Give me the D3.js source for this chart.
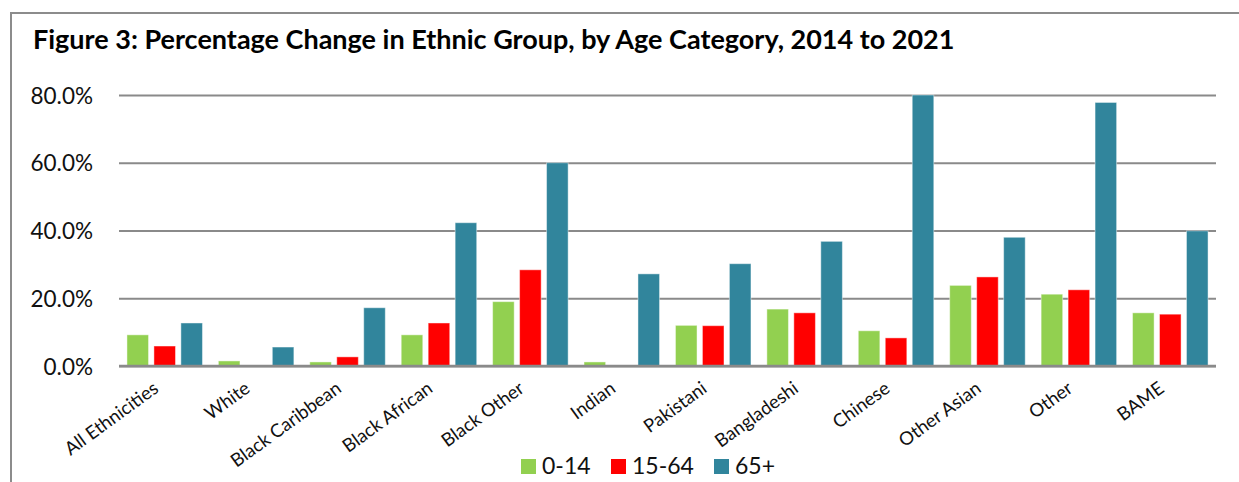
<!DOCTYPE html>
<html><head><meta charset="utf-8">
<script src="https://cdn.jsdelivr.net/npm/d3@7"></script>
<style>
html,body{margin:0;padding:0;background:#fff;}
svg{display:block;font-family:Lato,"Open Sans",sans-serif;}
</style></head>
<body>
<svg id="chart" width="1239" height="482"></svg>
<script>
const title = "Figure 3: Percentage Change in Ethnic Group, by Age Category, 2014 to 2021";
const categories = ["All Ethnicities","White","Black Caribbean","Black African","Black Other","Indian","Pakistani","Bangladeshi","Chinese","Other Asian","Other","BAME"];
const seriesNames = ["0-14","15-64","65+"];
const age0to14 = [9.2, 1.5, 1.2, 9.2, 19.0, 1.2, 12.0, 16.8, 10.4, 23.8, 21.2, 15.7];
const age15to64 = [5.9, 0, 2.7, 12.7, 28.4, 0, 11.9, 15.7, 8.3, 26.3, 22.5, 15.3];
const age65plus = [12.7, 5.6, 17.2, 42.3, 60.0, 27.2, 30.2, 36.8, 80.0, 38.0, 77.8, 39.9];
const yTicks = [0, 20, 40, 60, 80];
const colors = ["#92D050", "#FF0000", "#31859C"];

const seriesValues = [age0to14, age15to64, age65plus];
const svg = d3.select("#chart");

// frame
svg.append("path").attr("d", "M11,482 L11,13 L1239,13")
  .attr("fill","none").attr("stroke","#8c8c8c").attr("stroke-width",2);

// title
const t = svg.append("text").attr("x",33).attr("y",49)
  .attr("font-weight","bold").attr("font-size",22).attr("fill","#000").text(title);
const tw = t.node().getComputedTextLength();
t.attr("font-size", 22 * 922 / tw);

const x0 = d3.scaleBand().domain(categories).range([119,1216]).paddingInner(0.174).paddingOuter(0.087);
const x1 = d3.scaleBand().domain(seriesNames).range([0, x0.bandwidth()]).paddingInner(0.2);
const y = d3.scaleLinear().domain([0,80]).range([366,95]);

// gridlines
const yAxis = d3.axisLeft(y).tickValues(yTicks).tickSize(-(1216-119)).tickFormat(d => d.toFixed(1) + "%");
const ga = svg.append("g").attr("transform","translate(119,0)").call(yAxis);
ga.select(".domain").remove();
ga.selectAll(".tick line").attr("stroke","#8a8a8a").attr("stroke-width",2);
ga.selectAll(".tick text").attr("x",-26).attr("dy","0.36em").attr("font-size",22.5)
  .attr("fill","#111").attr("font-family","Lato,sans-serif");

// bars
const data = categories.map((c,i) => ({cat:c, vals: seriesNames.map((s,j)=>({s, v: seriesValues[j][i], j}))}));
const groups = svg.append("g").selectAll("g").data(data).join("g")
  .attr("transform", d => `translate(${x0(d.cat)},0)`);
groups.selectAll("rect").data(d => d.vals.filter(v => v.v > 0)).join("rect")
  .attr("x", d => x1(d.s)).attr("width", x1.bandwidth())
  .attr("y", d => y(d.v)).attr("height", d => y(0) - y(d.v))
  .attr("fill", d => colors[d.j])
  .attr("stroke","rgba(255,255,255,0.45)").attr("stroke-width",1);

// zero axis line
svg.append("line").attr("x1",119).attr("x2",1216).attr("y1",y(0)).attr("y2",y(0))
  .attr("stroke","#8a8a8a").attr("stroke-width",2.5);

// x labels
const xAxis = d3.axisBottom(x0).tickSize(0);
const gx = svg.append("g").attr("transform",`translate(0,${y(0)})`).call(xAxis);
gx.select(".domain").remove();
gx.selectAll(".tick text")
  .attr("font-size",18.5).attr("font-family","Lato,sans-serif").attr("fill","#111")
  .attr("text-anchor","end")
  .attr("x",0).attr("y",0).attr("dy",0)
  .attr("transform","translate(-5,25) rotate(-36)");

// legend
const legend = svg.append("g");
const legX = [521, 611, 714];
seriesNames.forEach((s,i) => {
  legend.append("rect").attr("x",legX[i]).attr("y",459).attr("width",15).attr("height",15).attr("fill",colors[i]);
  legend.append("text").attr("x",legX[i]+21).attr("y",474).attr("font-size",23)
    .attr("fill","#111").text(s);
});
</script>
</body></html>
